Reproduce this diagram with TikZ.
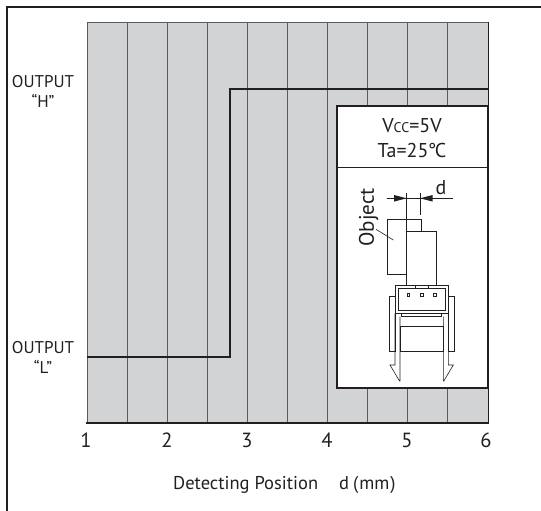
\documentclass[tikz,border=0pt]{standalone}
\usepackage{fontspec}
\setmainfont{PT Sans}
\definecolor{gridfill}{HTML}{D1D3D4}
\definecolor{gridline}{HTML}{5A5B5D}
\definecolor{ink}{HTML}{231F20}
\tikzset{
  lbl/.style={inner sep=0pt, text=ink, align=center},
  outlbl/.style={lbl, font=\fontsize{17}{19}\selectfont},
  ticklbl/.style={lbl, font=\fontsize{20.5}{22}\selectfont},
  titlelbl/.style={lbl, font=\fontsize{18.5}{20}\selectfont},
  inlbl/.style={lbl, font=\fontsize{20}{22}\selectfont},
  thin ink/.style={draw=ink, line width=0.6pt},
}
\begin{document}
\begin{tikzpicture}[x=1pt,y=-1pt]
\useasboundingbox (0,0) rectangle (541,511);
\fill[white] (0,0) rectangle (541,511);
% outer frame (only top and left visible)
\draw[ink, line width=1.2pt] (7,511) -- (7,7) -- (541,7);
% plot area
\fill[gridfill] (87,22) rectangle (488,423);
\foreach \i in {1,...,9} \draw[gridline, line width=0.8pt] ({87+40*\i},22) -- ({87+40*\i},423);
\draw[gridline, line width=0.9pt] (87,423) -- (87,22) -- (488,22);
\draw[ink, line width=1pt] (488,22) -- (488,423);
\draw[ink, line width=1.6pt] (86,423) -- (489,423);
% step response
\draw[ink, line width=1.8pt] (87,357) -- (230,357) -- (230,89) -- (488.5,89);
% inset
\draw[ink, fill=white, line width=1.1pt] (337,106) rectangle (488,388);
\draw[ink, line width=0.9pt] (337,167) -- (488,167);
\node[inlbl] (vcc) at (412,126) {V{\fontsize{14}{14}\selectfont CC}=5V};
\node[inlbl] (ta) at (412,150) {Ta=25\kern-0.5pt°\kern-1.5ptC};
% object and sensor
\draw[thin ink] (387.7,219) rectangle (421,274.3);
\draw[thin ink, fill=white] (406.7,231) rectangle (436.7,285);
\draw[thin ink] (376,229.3) -- (393.3,240);
\node[inlbl, font=\fontsize{21}{22}\selectfont, rotate=90] (obj) at (368.5,217.5) {Object};
% dimension d
\draw[thin ink] (406.7,193.3) -- (406.7,231);
\draw[thin ink] (420,193.3) -- (420,215);
\draw[thin ink] (386.7,198.3) -- (453.3,198.3);
\fill[ink] (406.7,198.3) -- (394,195) -- (394,201.6) -- cycle;
\fill[ink] (420,198.3) -- (432.7,195) -- (432.7,201.6) -- cycle;
\node[inlbl] (dl) at (441,188) {d};
% connector housing
\draw[thin ink, fill=white] (395,285) rectangle (448.3,313.3);
\draw[thin ink] (398.3,288.3) rectangle (445,310);
\draw[thin ink] (415,285) -- (415,288.3);
\draw[thin ink] (428.3,285) -- (428.3,288.3);
\foreach \x in {408.3,421.7,435} \draw[ink, line width=0.5pt] (\x-1.3,293.7) rectangle (\x+1.3,296.3);
\draw[thin ink] (401.7,313.3) rectangle (441.7,316.7);
\draw[thin ink] (389.5,296.7) rectangle (395,351.7);
\draw[thin ink] (448.3,296.7) rectangle (453.8,351.7);
\draw[thin ink] (395,313.3) -- (395,365) -- (390,365) -- (399.5,381) -- (400,381) -- (400,316.7);
\draw[thin ink] (448.3,313.3) -- (448.3,365) -- (453.3,365) -- (443.8,381) -- (443.3,381) -- (443.3,316.7);
\draw[thin ink] (400,326.7) rectangle (443.3,351.7);
\draw[ink, line width=1.1pt] (400,326.7) -- (443.3,326.7);
% y labels
\node[outlbl] (oh) at (43,82) {OUTPUT};
\node[outlbl] (ohq) at (43,101) {“H”};
\node[outlbl] (ol) at (43,348) {OUTPUT};
\node[outlbl] (olq) at (43,367) {“L”};
% tick labels
\foreach \v/\x in {1/86,2/167,3/247,4/327,5/407,6/486}
  \node[ticklbl] (t\v) at (\x,440) {\v};
% axis title
\node[titlelbl, anchor=west] (title) at (173,485) {Detecting Position};
\node[titlelbl, anchor=west] (unit) at (339,485) {d\kern4pt(\kern1pt mm\kern1pt)};
\end{tikzpicture}
\end{document}
